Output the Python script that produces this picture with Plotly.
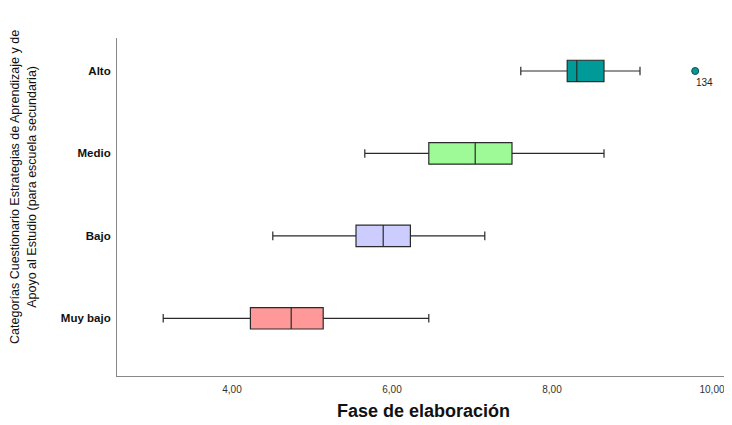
import plotly.graph_objects as go

categories = ["Muy bajo", "Bajo", "Medio", "Alto"]
lower_whisker = [3.14, 4.51, 5.66, 7.61]
q1 = [4.23, 5.55, 6.46, 8.19]
median = [4.74, 5.89, 7.04, 8.31]
q3 = [5.14, 6.23, 7.50, 8.65]
upper_whisker = [6.46, 7.16, 8.65, 9.10]

outlier_category = ["Alto"]
outlier_value = [9.79]
outlier_label = ["134"]

tick_vals = [4, 6, 8, 10]
tick_text = ["4,00", "6,00", "8,00", "10,00"]

fill_colors = ["#FF9999", "#CCCCFF", "#9EFA96", "#009A98"]

fig = go.Figure()
for i, cat in enumerate(categories):
    fig.add_trace(go.Box(
        y=[cat], q1=[q1[i]], median=[median[i]], q3=[q3[i]],
        lowerfence=[lower_whisker[i]], upperfence=[upper_whisker[i]],
        orientation="h", boxpoints=False, width=0.26, whiskerwidth=0.4,
        fillcolor=fill_colors[i], line=dict(color="#2a2a2a", width=1.2),
        showlegend=False, hoverinfo="x",
    ))

fig.add_trace(go.Scatter(
    x=outlier_value, y=outlier_category, mode="markers",
    marker=dict(color="#009A98", size=7, line=dict(color="#1a4a4a", width=1)),
    showlegend=False,
))
for v, c, t in zip(outlier_value, outlier_category, outlier_label):
    fig.add_annotation(x=v, y=c, text=t, showarrow=False, xanchor="left",
                       xshift=-1, yshift=-12,
                       font=dict(family="Liberation Sans, Arial", size=10, color="#222"))

fig.add_annotation(
    text="Categorías Cuestionario Estrategias de Aprendizaje y de<br>Apoyo al Estudio (para escuela secundaria)",
    xref="paper", yref="paper", x=-0.153, y=0.56, textangle=-90,
    showarrow=False, xanchor="center", yanchor="middle",
    font=dict(family="Liberation Sans, Arial", size=12.5, color="#111"),
)

fig.update_layout(
    width=724, height=417,
    margin=dict(l=109, r=2, t=30, b=49),
    paper_bgcolor="white", plot_bgcolor="white",
    xaxis=dict(range=[2.5625, 10.225], tickvals=tick_vals, ticktext=tick_text,
               showgrid=False, zeroline=False, showline=True, linecolor="#888",
               linewidth=1, ticks="", ticklabelstandoff=4,
               tickfont=dict(family="Liberation Sans, Arial", size=10, color="#333"),
               title=dict(text="<b>Fase de elaboración</b>", standoff=10,
                          font=dict(family="Liberation Sans, Arial", size=18, color="#111"))),
    yaxis=dict(type="category", categoryorder="array", categoryarray=categories,
               range=[-0.70, 3.40], showgrid=False, zeroline=False, showline=True,
               linecolor="#888", linewidth=1, ticks="",
               ticklabelstandoff=3,
               tickfont=dict(family="Liberation Sans, Arial", size=11.5, color="#111", weight="bold")),
)

fig.write_html("out.html")
